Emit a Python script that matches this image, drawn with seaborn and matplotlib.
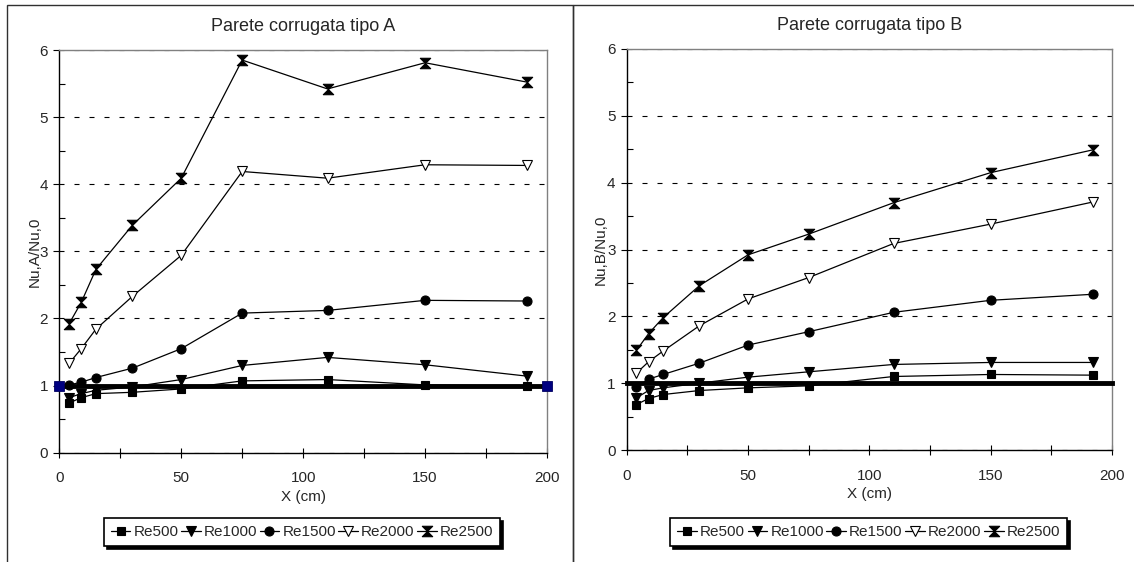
import matplotlib
matplotlib.use("Agg")
import matplotlib.pyplot as plt
from matplotlib.path import Path
from matplotlib.patches import Rectangle
from matplotlib.ticker import MultipleLocator
import seaborn as sns

sns.set_style("white")
plt.rcParams["font.family"] = ["Liberation Sans", "DejaVu Sans"]

# Measurement stations along the channel (cm)
x_cm = [4, 9, 15, 30, 50, 75, 110, 150, 192]
series_names = ["Re500", "Re1000", "Re1500", "Re2000", "Re2500"]

# Nu/Nu0 for corrugated wall type A
a_re500 = [0.74, 0.82, 0.88, 0.90, 0.95, 1.07, 1.09, 1.01, 0.99]
a_re1000 = [0.82, 0.88, 0.93, 0.98, 1.09, 1.30, 1.42, 1.31, 1.14]
a_re1500 = [1.01, 1.05, 1.12, 1.26, 1.55, 2.08, 2.12, 2.27, 2.26]
a_re2000 = [1.33, 1.55, 1.84, 2.33, 2.94, 4.19, 4.09, 4.29, 4.28]
a_re2500 = [1.92, 2.24, 2.73, 3.39, 4.09, 5.85, 5.42, 5.81, 5.52]

# Nu/Nu0 for corrugated wall type B
b_re500 = [0.68, 0.77, 0.83, 0.89, 0.93, 0.96, 1.10, 1.13, 1.12]
b_re1000 = [0.78, 0.89, 0.93, 1.00, 1.09, 1.17, 1.28, 1.31, 1.31]
b_re1500 = [0.94, 1.06, 1.13, 1.30, 1.57, 1.77, 2.06, 2.24, 2.33]
b_re2000 = [1.15, 1.32, 1.48, 1.86, 2.26, 2.58, 3.09, 3.38, 3.71]
b_re2500 = [1.49, 1.74, 1.98, 2.46, 2.92, 3.23, 3.70, 4.15, 4.49]

# Flat-wall reference (Nu/Nu0 = 1)
baseline_x = [0, 200]
baseline_y = [1, 1]

hourglass = Path([(-1, 1), (1, 1), (0, 0), (1, -1), (-1, -1), (0, 0), (-1, 1)],
                 closed=True)

marker_styles = {
    "Re500": dict(marker="s", markersize=6.0, markerfacecolor="black"),
    "Re1000": dict(marker="v", markersize=7.0, markerfacecolor="black"),
    "Re1500": dict(marker="o", markersize=6.5, markerfacecolor="black"),
    "Re2000": dict(marker="v", markersize=7.0, markerfacecolor="white"),
    "Re2500": dict(marker=hourglass, markersize=7.5, markerfacecolor="black"),
}

panels = [
    ("Parete corrugata tipo A", "Nu,A/Nu,0",
     [a_re500, a_re1000, a_re1500, a_re2000, a_re2500], True),
    ("Parete corrugata tipo B", "Nu,B/Nu,0",
     [b_re500, b_re1000, b_re1500, b_re2000, b_re2500], False),
]

W, H = 1134, 562
fig = plt.figure(figsize=(W / 100, H / 100), dpi=100)
fig.patch.set_facecolor("white")

# chart-area frames
fig.add_artist(Rectangle((7 / W, -0.1), (573 - 7) / W, 1.1 - 5 / H,
                         transform=fig.transFigure, fill=False,
                         edgecolor="#303030", linewidth=1.0))
fig.add_artist(Rectangle((573 / W, -0.1), 0.6, 1.1 - 5 / H,
                         transform=fig.transFigure, fill=False,
                         edgecolor="#303030", linewidth=1.0))

axes_rects = [
    [59.3 / W, 1 - 452.7 / H, (547 - 59.3) / W, (452.7 - 50) / H],
    [626.7 / W, 1 - 450 / H, (1112 - 626.7) / W, (450 - 49) / H],
]
legend_centers = [302 / W, 868.7 / W]
ylabel_x = [-0.036, -0.039]

for rect, (title, ylab, values, ends_marked), lcx, ylx in zip(
        axes_rects, panels, legend_centers, ylabel_x):
    ax = fig.add_axes(rect)
    ax.set_facecolor("white")

    # flat-wall reference line
    if ends_marked:
        sns.lineplot(x=baseline_x, y=baseline_y, ax=ax, color="black",
                     linewidth=3.5, marker="s", markersize=6.5,
                     markerfacecolor="#000080", markeredgecolor="#000060",
                     markeredgewidth=0.6, zorder=2.6, clip_on=False)
    else:
        sns.lineplot(x=baseline_x, y=baseline_y, ax=ax, color="black",
                     linewidth=3.5, solid_capstyle="projecting",
                     zorder=2.6, clip_on=False)

    handles = []
    for name, vals in zip(series_names, values):
        sns.lineplot(x=x_cm, y=vals, ax=ax, color="black", linewidth=0.9,
                     markeredgecolor="black", markeredgewidth=0.8,
                     label=name, legend=False, zorder=2.2, clip_on=False,
                     **marker_styles[name])
        handles.append(ax.lines[-1])

    ax.set_xlim(0, 200)
    ax.set_ylim(0, 6)
    ax.xaxis.set_major_locator(MultipleLocator(50))
    ax.xaxis.set_minor_locator(MultipleLocator(25))
    ax.yaxis.set_major_locator(MultipleLocator(1))
    ax.yaxis.set_minor_locator(MultipleLocator(0.5))

    ax.tick_params(axis="x", which="both", direction="inout", length=7,
                   width=0.8, color="black", bottom=True, top=False)
    ax.tick_params(axis="x", which="major", pad=10, labelsize=11)
    ax.tick_params(axis="y", which="major", direction="out", length=4,
                   width=0.8, color="black", pad=4, labelsize=11, left=True)
    ax.tick_params(axis="y", which="minor", direction="in", length=4,
                   width=0.8, color="black", left=True)

    ax.yaxis.grid(True, which="major", color="black", linewidth=0.8,
                  linestyle=(0, (4.5, 9)))
    ax.xaxis.grid(False)

    for side in ("left", "bottom"):
        ax.spines[side].set_color("black")
        ax.spines[side].set_linewidth(1.0)
    for side in ("top", "right"):
        ax.spines[side].set_color("#808080")
        ax.spines[side].set_linewidth(1.0)
        ax.spines[side].set_visible(True)

    ax.set_title(title, fontsize=13, pad=14)
    ax.set_xlabel("X (cm)", fontsize=11, labelpad=3)
    ax.set_ylabel(ylab, fontsize=11)
    ax.yaxis.set_label_coords(ylx, 0.5)

    leg = ax.legend(handles, series_names, loc="upper center",
                    bbox_to_anchor=(lcx, 1 - 518 / H),
                    bbox_transform=fig.transFigure, ncol=5, frameon=True,
                    fancybox=False, shadow={"color": "black", "alpha": 1.0},
                    edgecolor="black", framealpha=1.0, fontsize=11,
                    handlelength=1.3, handletextpad=0.2, columnspacing=0.15,
                    borderpad=0.45, borderaxespad=0)
    leg.get_frame().set_linewidth(1.2)

fig.savefig("out.png", dpi=100, facecolor="white")
